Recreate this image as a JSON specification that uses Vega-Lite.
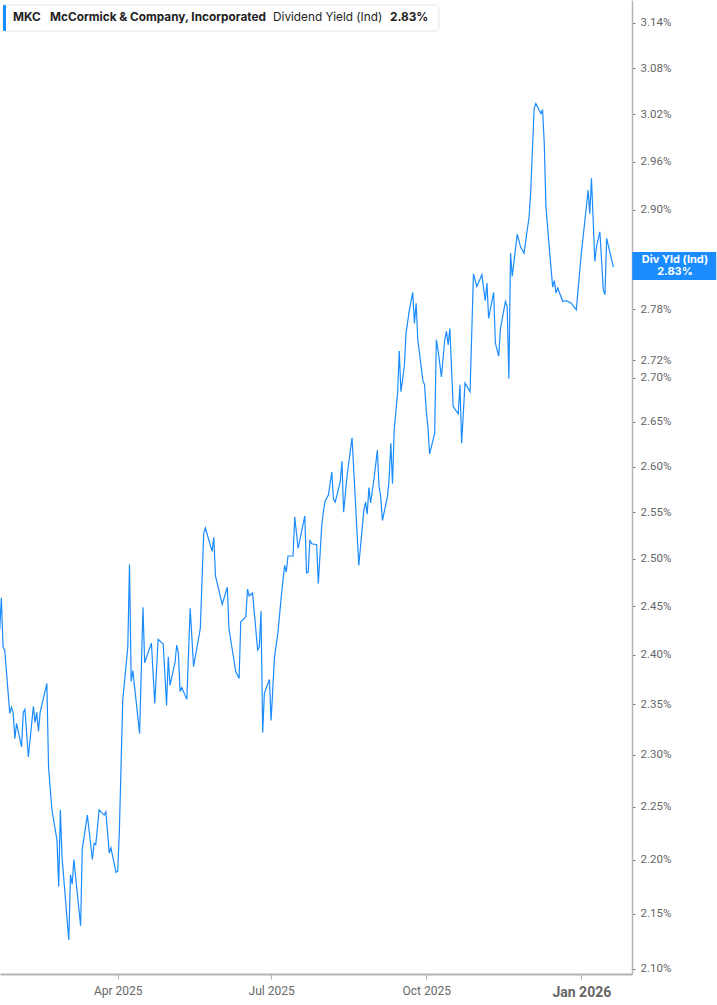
{
  "$schema": "https://vega.github.io/schema/vega-lite/v6.json",
  "width": 632,
  "height": 974,
  "autosize": "none",
  "padding": {"left": 0, "top": 0, "right": 85, "bottom": 31},
  "background": "white",
  "config": {"view": {"stroke": null}, "axis": {"grid": false}},
  "data": {"values": [{"label": "MKC"}]},
  "datasets": {
    "mkc": [
      {"date": "2025-01-21", "value": 2.425},
      {"date": "2025-01-22", "value": 2.459},
      {"date": "2025-01-23", "value": 2.408},
      {"date": "2025-01-24", "value": 2.405},
      {"date": "2025-01-27", "value": 2.341},
      {"date": "2025-01-28", "value": 2.347},
      {"date": "2025-01-29", "value": 2.342},
      {"date": "2025-01-30", "value": 2.316},
      {"date": "2025-01-31", "value": 2.331},
      {"date": "2025-02-03", "value": 2.308},
      {"date": "2025-02-04", "value": 2.342},
      {"date": "2025-02-05", "value": 2.345},
      {"date": "2025-02-07", "value": 2.298},
      {"date": "2025-02-10", "value": 2.348},
      {"date": "2025-02-11", "value": 2.332},
      {"date": "2025-02-12", "value": 2.342},
      {"date": "2025-02-13", "value": 2.323},
      {"date": "2025-02-14", "value": 2.342},
      {"date": "2025-02-18", "value": 2.371},
      {"date": "2025-02-19", "value": 2.288},
      {"date": "2025-02-21", "value": 2.247},
      {"date": "2025-02-24", "value": 2.218},
      {"date": "2025-02-25", "value": 2.175},
      {"date": "2025-02-26", "value": 2.247},
      {"date": "2025-02-27", "value": 2.202},
      {"date": "2025-03-03", "value": 2.126},
      {"date": "2025-03-04", "value": 2.186},
      {"date": "2025-03-05", "value": 2.177},
      {"date": "2025-03-06", "value": 2.200},
      {"date": "2025-03-10", "value": 2.139},
      {"date": "2025-03-11", "value": 2.210},
      {"date": "2025-03-14", "value": 2.242},
      {"date": "2025-03-17", "value": 2.200},
      {"date": "2025-03-18", "value": 2.215},
      {"date": "2025-03-19", "value": 2.214},
      {"date": "2025-03-21", "value": 2.247},
      {"date": "2025-03-24", "value": 2.242},
      {"date": "2025-03-25", "value": 2.245},
      {"date": "2025-03-27", "value": 2.206},
      {"date": "2025-03-28", "value": 2.211},
      {"date": "2025-03-31", "value": 2.188},
      {"date": "2025-04-01", "value": 2.189},
      {"date": "2025-04-02", "value": 2.227},
      {"date": "2025-04-04", "value": 2.354},
      {"date": "2025-04-07", "value": 2.408},
      {"date": "2025-04-08", "value": 2.494},
      {"date": "2025-04-09", "value": 2.373},
      {"date": "2025-04-10", "value": 2.384},
      {"date": "2025-04-14", "value": 2.321},
      {"date": "2025-04-16", "value": 2.449},
      {"date": "2025-04-17", "value": 2.392},
      {"date": "2025-04-21", "value": 2.412},
      {"date": "2025-04-23", "value": 2.351},
      {"date": "2025-04-25", "value": 2.416},
      {"date": "2025-04-28", "value": 2.411},
      {"date": "2025-04-30", "value": 2.349},
      {"date": "2025-05-01", "value": 2.398},
      {"date": "2025-05-02", "value": 2.369},
      {"date": "2025-05-05", "value": 2.392},
      {"date": "2025-05-06", "value": 2.410},
      {"date": "2025-05-07", "value": 2.402},
      {"date": "2025-05-08", "value": 2.363},
      {"date": "2025-05-09", "value": 2.367},
      {"date": "2025-05-12", "value": 2.355},
      {"date": "2025-05-14", "value": 2.448},
      {"date": "2025-05-16", "value": 2.388},
      {"date": "2025-05-20", "value": 2.427},
      {"date": "2025-05-22", "value": 2.527},
      {"date": "2025-05-23", "value": 2.533},
      {"date": "2025-05-27", "value": 2.508},
      {"date": "2025-05-28", "value": 2.523},
      {"date": "2025-05-29", "value": 2.482},
      {"date": "2025-06-02", "value": 2.452},
      {"date": "2025-06-05", "value": 2.470},
      {"date": "2025-06-06", "value": 2.427},
      {"date": "2025-06-10", "value": 2.383},
      {"date": "2025-06-12", "value": 2.376},
      {"date": "2025-06-13", "value": 2.434},
      {"date": "2025-06-16", "value": 2.439},
      {"date": "2025-06-17", "value": 2.468},
      {"date": "2025-06-18", "value": 2.461},
      {"date": "2025-06-20", "value": 2.464},
      {"date": "2025-06-23", "value": 2.405},
      {"date": "2025-06-24", "value": 2.408},
      {"date": "2025-06-25", "value": 2.445},
      {"date": "2025-06-26", "value": 2.322},
      {"date": "2025-06-27", "value": 2.361},
      {"date": "2025-06-30", "value": 2.375},
      {"date": "2025-07-01", "value": 2.334},
      {"date": "2025-07-03", "value": 2.398},
      {"date": "2025-07-05", "value": 2.422},
      {"date": "2025-07-07", "value": 2.460},
      {"date": "2025-07-09", "value": 2.493},
      {"date": "2025-07-10", "value": 2.486},
      {"date": "2025-07-11", "value": 2.503},
      {"date": "2025-07-14", "value": 2.503},
      {"date": "2025-07-15", "value": 2.545},
      {"date": "2025-07-17", "value": 2.511},
      {"date": "2025-07-21", "value": 2.546},
      {"date": "2025-07-22", "value": 2.485},
      {"date": "2025-07-23", "value": 2.486},
      {"date": "2025-07-24", "value": 2.520},
      {"date": "2025-07-25", "value": 2.516},
      {"date": "2025-07-28", "value": 2.515},
      {"date": "2025-07-29", "value": 2.474},
      {"date": "2025-07-31", "value": 2.535},
      {"date": "2025-08-01", "value": 2.551},
      {"date": "2025-08-02", "value": 2.562},
      {"date": "2025-08-04", "value": 2.569},
      {"date": "2025-08-06", "value": 2.594},
      {"date": "2025-08-07", "value": 2.564},
      {"date": "2025-08-08", "value": 2.561},
      {"date": "2025-08-11", "value": 2.583},
      {"date": "2025-08-12", "value": 2.606},
      {"date": "2025-08-13", "value": 2.550},
      {"date": "2025-08-15", "value": 2.589},
      {"date": "2025-08-18", "value": 2.632},
      {"date": "2025-08-22", "value": 2.493},
      {"date": "2025-08-25", "value": 2.552},
      {"date": "2025-08-26", "value": 2.561},
      {"date": "2025-08-27", "value": 2.548},
      {"date": "2025-08-28", "value": 2.577},
      {"date": "2025-08-29", "value": 2.560},
      {"date": "2025-08-31", "value": 2.586},
      {"date": "2025-09-02", "value": 2.618},
      {"date": "2025-09-03", "value": 2.578},
      {"date": "2025-09-04", "value": 2.567},
      {"date": "2025-09-05", "value": 2.541},
      {"date": "2025-09-08", "value": 2.567},
      {"date": "2025-09-09", "value": 2.587},
      {"date": "2025-09-10", "value": 2.626},
      {"date": "2025-09-11", "value": 2.581},
      {"date": "2025-09-12", "value": 2.641},
      {"date": "2025-09-14", "value": 2.682},
      {"date": "2025-09-15", "value": 2.731},
      {"date": "2025-09-16", "value": 2.684},
      {"date": "2025-09-18", "value": 2.713},
      {"date": "2025-09-19", "value": 2.751},
      {"date": "2025-09-21", "value": 2.779},
      {"date": "2025-09-23", "value": 2.800},
      {"date": "2025-09-24", "value": 2.763},
      {"date": "2025-09-25", "value": 2.787},
      {"date": "2025-09-26", "value": 2.744},
      {"date": "2025-09-29", "value": 2.697},
      {"date": "2025-09-30", "value": 2.692},
      {"date": "2025-10-01", "value": 2.663},
      {"date": "2025-10-02", "value": 2.644},
      {"date": "2025-10-03", "value": 2.614},
      {"date": "2025-10-06", "value": 2.637},
      {"date": "2025-10-07", "value": 2.744},
      {"date": "2025-10-08", "value": 2.732},
      {"date": "2025-10-10", "value": 2.701},
      {"date": "2025-10-12", "value": 2.744},
      {"date": "2025-10-13", "value": 2.754},
      {"date": "2025-10-14", "value": 2.738},
      {"date": "2025-10-15", "value": 2.757},
      {"date": "2025-10-17", "value": 2.667},
      {"date": "2025-10-20", "value": 2.659},
      {"date": "2025-10-21", "value": 2.692},
      {"date": "2025-10-22", "value": 2.626},
      {"date": "2025-10-24", "value": 2.694},
      {"date": "2025-10-27", "value": 2.684},
      {"date": "2025-10-29", "value": 2.822},
      {"date": "2025-10-31", "value": 2.807},
      {"date": "2025-11-03", "value": 2.821},
      {"date": "2025-11-05", "value": 2.790},
      {"date": "2025-11-06", "value": 2.811},
      {"date": "2025-11-07", "value": 2.769},
      {"date": "2025-11-10", "value": 2.800},
      {"date": "2025-11-11", "value": 2.740},
      {"date": "2025-11-13", "value": 2.725},
      {"date": "2025-11-14", "value": 2.757},
      {"date": "2025-11-17", "value": 2.789},
      {"date": "2025-11-18", "value": 2.783},
      {"date": "2025-11-19", "value": 2.699},
      {"date": "2025-11-20", "value": 2.847},
      {"date": "2025-11-21", "value": 2.819},
      {"date": "2025-11-24", "value": 2.870},
      {"date": "2025-11-26", "value": 2.854},
      {"date": "2025-11-28", "value": 2.847},
      {"date": "2025-12-01", "value": 2.891},
      {"date": "2025-12-02", "value": 2.924},
      {"date": "2025-12-04", "value": 3.028},
      {"date": "2025-12-05", "value": 3.034},
      {"date": "2025-12-08", "value": 3.021},
      {"date": "2025-12-09", "value": 3.026},
      {"date": "2025-12-10", "value": 2.983},
      {"date": "2025-12-11", "value": 2.904},
      {"date": "2025-12-13", "value": 2.853},
      {"date": "2025-12-15", "value": 2.806},
      {"date": "2025-12-16", "value": 2.814},
      {"date": "2025-12-17", "value": 2.799},
      {"date": "2025-12-18", "value": 2.805},
      {"date": "2025-12-21", "value": 2.789},
      {"date": "2025-12-23", "value": 2.790},
      {"date": "2025-12-26", "value": 2.787},
      {"date": "2025-12-29", "value": 2.779},
      {"date": "2026-01-01", "value": 2.847},
      {"date": "2026-01-04", "value": 2.904},
      {"date": "2026-01-05", "value": 2.924},
      {"date": "2026-01-06", "value": 2.895},
      {"date": "2026-01-07", "value": 2.939},
      {"date": "2026-01-09", "value": 2.837},
      {"date": "2026-01-10", "value": 2.855},
      {"date": "2026-01-12", "value": 2.873},
      {"date": "2026-01-14", "value": 2.803},
      {"date": "2026-01-15", "value": 2.797},
      {"date": "2026-01-16", "value": 2.865},
      {"date": "2026-01-20", "value": 2.830}
    ]
  },
  "layer": [
    {
      "data": {"name": "mkc"},
      "mark": {"type": "line", "color": "#1a8cff", "strokeWidth": 1.2, "clip": true},
      "encoding": {
        "x": {
          "field": "date", "type": "temporal",
          "scale": {"type": "utc", "domain": [{"year": 2025, "month": 1, "date": 21, "hours": 4, "minutes": 48, "utc": true}, {"year": 2026, "month": 1, "date": 31, "hours": 1, "utc": true}], "nice": false},
          "axis": {
            "title": null,
            "values": [{"year": 2025, "month": 4, "date": 1, "utc": true}, {"year": 2025, "month": 7, "date": 1, "utc": true}, {"year": 2025, "month": 10, "date": 1, "utc": true}, {"year": 2026, "month": 1, "date": 1, "utc": true}],
            "labelExpr": "utcFormat(datum.value, '%b %Y')",
            "domainColor": "#b3b3b3", "domainWidth": 2,
            "tickColor": "#b3b3b3", "tickSize": 5, "tickWidth": 1,
            "labelPadding": 6, "labelFont": "Roboto", "labelColor": "#666666",
            "labelFontSize": {"condition": {"test": "utcmonth(datum.value) === 0", "value": 14}, "value": 12},
            "labelFontWeight": {"condition": {"test": "utcmonth(datum.value) === 0", "value": "bold"}, "value": "normal"}
          }
        },
        "y": {
          "field": "value", "type": "quantitative",
          "scale": {"type": "log", "domain": [2.0955, 3.1704], "nice": false, "zero": false},
          "axis": {
            "orient": "right", "title": null,
            "values": [2.10, 2.15, 2.20, 2.25, 2.30, 2.35, 2.40, 2.45, 2.50, 2.55, 2.60, 2.65, 2.70, 2.72, 2.78, 2.90, 2.96, 3.02, 3.08, 3.14],
            "labelExpr": "format(datum.value, '.2f') + '%'",
            "domainColor": "#b3b3b3", "domainWidth": 1.5,
            "tickColor": "#777777", "tickSize": 3, "tickWidth": 1,
            "labelPadding": 5, "labelFont": "Roboto", "labelFontSize": 11.5, "labelColor": "#666666"
          }
        }
      }
    },
    {
      "mark": {"type": "rect", "fill": "white", "stroke": "#e6e6e6", "strokeWidth": 1, "cornerRadius": 3},
      "encoding": {
        "x": {"datum": {"year": 2025, "month": 1, "date": 23, "utc": true}, "type": "temporal"},
        "x2": {"datum": {"year": 2025, "month": 10, "date": 8, "hours": 12, "utc": true}},
        "y": {"datum": 3.1637, "type": "quantitative"},
        "y2": {"datum": 3.1288}
      }
    },
    {
      "mark": {"type": "rect", "fill": "#1a8cff", "cornerRadius": 1},
      "encoding": {
        "x": {"datum": {"year": 2025, "month": 1, "date": 23, "utc": true}, "type": "temporal"},
        "x2": {"datum": {"year": 2025, "month": 1, "date": 24, "hours": 18, "utc": true}},
        "y": {"datum": 3.1637, "type": "quantitative"},
        "y2": {"datum": 3.1288}
      }
    },
    {
      "mark": {"type": "text", "text": "MKC", "align": "left", "baseline": "middle", "font": "Inter", "fontSize": 11.8, "fontWeight": "bold", "color": "#222222"},
      "encoding": {
        "x": {"datum": {"year": 2025, "month": 1, "date": 28, "hours": 22, "utc": true}, "type": "temporal"},
        "y": {"datum": 3.1473, "type": "quantitative"}
      }
    },
    {
      "mark": {"type": "text", "text": "McCormick & Company, Incorporated", "align": "left", "baseline": "middle", "font": "Inter", "fontSize": 11.8, "fontWeight": "bold", "color": "#222222"},
      "encoding": {
        "x": {"datum": {"year": 2025, "month": 2, "date": 19, "hours": 21, "utc": true}, "type": "temporal"},
        "y": {"datum": 3.1473, "type": "quantitative"}
      }
    },
    {
      "mark": {"type": "text", "text": "Dividend Yield (Ind)", "align": "left", "baseline": "middle", "font": "Inter", "fontSize": 11.8, "fontWeight": "normal", "color": "#222222"},
      "encoding": {
        "x": {"datum": {"year": 2025, "month": 7, "date": 2, "hours": 3, "utc": true}, "type": "temporal"},
        "y": {"datum": 3.1473, "type": "quantitative"}
      }
    },
    {
      "mark": {"type": "text", "text": "2.83%", "align": "left", "baseline": "middle", "font": "Inter", "fontSize": 11.8, "fontWeight": "bold", "color": "#222222"},
      "encoding": {
        "x": {"datum": {"year": 2025, "month": 9, "date": 9, "hours": 12, "utc": true}, "type": "temporal"},
        "y": {"datum": 3.1473, "type": "quantitative"}
      }
    },
    {
      "mark": {"type": "rect", "fill": "#1a8cff"},
      "encoding": {
        "x": {"datum": {"year": 2026, "month": 1, "date": 31, "hours": 5, "utc": true}, "type": "temporal"},
        "x2": {"datum": {"year": 2026, "month": 3, "date": 22, "utc": true}},
        "y": {"datum": 2.8482, "type": "quantitative"},
        "y2": {"datum": 2.8145}
      }
    },
    {
      "mark": {"type": "text", "text": "Div Yld (Ind)", "align": "center", "baseline": "middle", "font": "Inter", "fontSize": 11, "fontWeight": "bold", "color": "white"},
      "encoding": {
        "x": {"datum": {"year": 2026, "month": 2, "date": 25, "hours": 13, "utc": true}, "type": "temporal"},
        "y": {"datum": 2.8386, "type": "quantitative"}
      }
    },
    {
      "mark": {"type": "text", "text": "2.83%", "align": "center", "baseline": "middle", "font": "Inter", "fontSize": 11, "fontWeight": "bold", "color": "white"},
      "encoding": {
        "x": {"datum": {"year": 2026, "month": 2, "date": 25, "hours": 13, "utc": true}, "type": "temporal"},
        "y": {"datum": 2.8242, "type": "quantitative"}
      }
    }
  ]
}
